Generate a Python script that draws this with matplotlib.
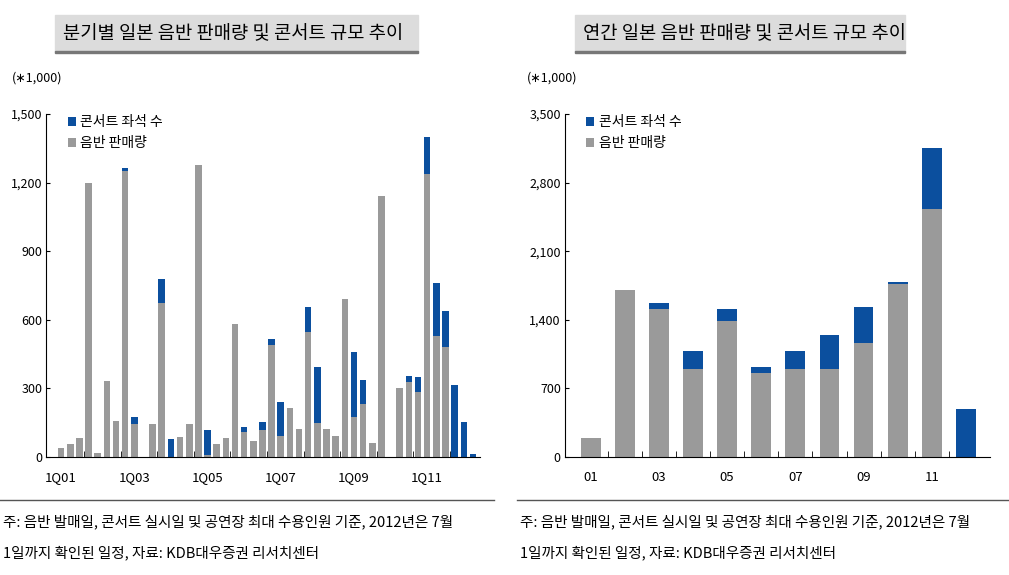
import matplotlib
matplotlib.use("Agg")
import matplotlib.pyplot as plt
from matplotlib.patches import Rectangle
import numpy as np

plt.rcParams['font.family'] = ['Noto Sans CJK JP', 'Noto Sans CJK KR', 'DejaVu Sans']

# Left: quarterly 1Q01..2Q12 (unit: 1,000)
q_album = [41,59,82,1200,18,331,157,1252,146,0,146,675,0,86,146,1277,8,59,82,580,
           110,70,120,488,92,214,122,546,151,122,92,690,176,231,63,1142,0,302,329,283,
           1237,531,480,0,0,0]
q_concert = [0,0,0,0,0,0,0,13,30,0,0,102,80,0,0,0,109,0,0,0,
             23,0,35,29,147,0,0,110,241,0,0,0,282,106,0,0,0,0,25,65,
             161,229,158,315,155,12]
q_labels = ['1Q01','1Q03','1Q05','1Q07','1Q09','1Q11']

# Right: yearly 01..12
years = ['01','02','03','04','05','06','07','08','09','10','11','12']
y_album = [200,1700,1510,900,1390,860,900,900,1160,1770,2530,0]
y_concert = [0,0,60,180,120,60,180,350,370,20,620,490]
y_labels = ['01','03','05','07','09','11']

GRAY = '#9a9a9a'
BLUE = '#0b4f9e'

fig = plt.figure(figsize=(10.09,5.75), dpi=100)

def style(ax, ymax, yticks):
    for s in ['top','right']:
        ax.spines[s].set_visible(False)
    ax.set_ylim(0, ymax)
    ax.set_yticks(yticks)
    ax.set_yticklabels([f'{v:,}' for v in yticks], fontsize=9)
    ax.tick_params(axis='y', direction='in', length=3, pad=3)
    ax.legend(loc='upper left', frameon=False, fontsize=10, handlelength=0.6,
              handletextpad=0.3, borderaxespad=0.2, labelspacing=0.5,
              bbox_to_anchor=(0.03, 1.02))

# left chart
ax1 = fig.add_axes([0.046, 0.205, 0.430, 0.597])
x = np.arange(len(q_album))
ax1.bar(x, q_concert, 0.72, bottom=q_album, color=BLUE, label='콘서트 좌석 수')
ax1.bar(x, q_album, 0.72, color=GRAY, label='음반 판매량')
ax1.set_xlim(-1.6, len(x) - 0.2)
ax1.set_xticks(np.arange(0, len(x), 8))
ax1.set_xticklabels(q_labels, fontsize=9.5)
ax1.set_xticks(np.arange(2.5, len(x), 4), minor=True)
ax1.tick_params(axis='x', which='major', length=0, pad=10)
ax1.tick_params(axis='x', which='minor', direction='in', length=4)
style(ax1, 1500, [0,300,600,900,1200,1500])

# right chart
ax2 = fig.add_axes([0.56, 0.205, 0.421, 0.597])
x2 = np.arange(len(years))
ax2.bar(x2, y_concert, 0.58, bottom=y_album, color=BLUE, label='콘서트 좌석 수')
ax2.bar(x2, y_album, 0.58, color=GRAY, label='음반 판매량')
ax2.set_xlim(-0.75, len(years) - 0.3)
ax2.set_xticks(np.arange(0, len(years), 2))
ax2.set_xticklabels(y_labels, fontsize=9.5)
ax2.set_xticks(np.arange(0.5, len(years) - 1, 1), minor=True)
ax2.tick_params(axis='x', which='major', length=0, pad=10)
ax2.tick_params(axis='x', which='minor', direction='in', length=4)
style(ax2, 3500, [0,700,1400,2100,2800,3500])

# unit labels
fig.text(0.012, 0.858, '(\u22171,000)', fontsize=9)
fig.text(0.522, 0.858, '(\u22171,000)', fontsize=9)

# title boxes
for (x0, x1_, txt) in [(55, 418, '분기별 일본 음반 판매량 및 콘서트 규모 추이'),
                       (575, 905, '연간 일본 음반 판매량 및 콘서트 규모 추이')]:
    fig.patches.append(Rectangle((x0/1009, 1-52/575), (x1_-x0)/1009, 37/575,
                                 transform=fig.transFigure, color='#dcdcdc', zorder=0))
    fig.patches.append(Rectangle((x0/1009, 1-53/575), (x1_-x0)/1009, 2/575,
                                 transform=fig.transFigure, color='#777777', zorder=1))
    fig.text((x0+8)/1009, 1-34/575, txt, fontsize=13.5, va='center', ha='left')

# footnotes
for xf in [0.0, 0.512]:
    fig.text(xf + 0.003, 1-522/575, '주: 음반 발매일, 콘서트 실시일 및 공연장 최대 수용인원 기준, 2012년은 7월',
             fontsize=10.5, va='center')
    fig.text(xf + 0.003, 1-553/575, '1일까지 확인된 일정, 자료: KDB대우증권 리서치센터',
             fontsize=10.5, va='center')
fig.lines.append(plt.Line2D([0, 0.49], [1-500/575]*2, transform=fig.transFigure, color='#555555', lw=1))
fig.lines.append(plt.Line2D([0.512, 1.0], [1-500/575]*2, transform=fig.transFigure, color='#555555', lw=1))

fig.savefig('out.png', dpi=100)
